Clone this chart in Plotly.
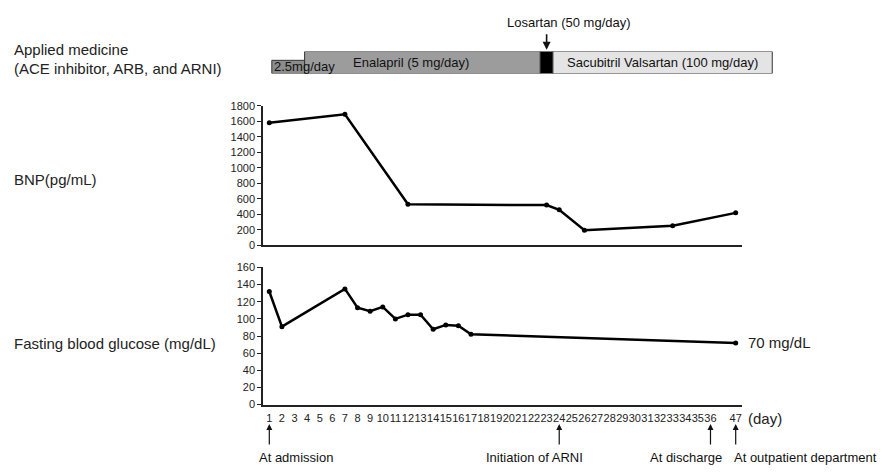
import plotly.graph_objects as go

# ---------------- data ----------------
tick_labels = [str(d) for d in range(1, 37)] + ["", "47"]

bnp_days = [1, 7, 12, 23, 24, 26, 33, 47]
bnp_values = [1580, 1690, 530, 520, 460, 195, 255, 420]

glu_days = [1, 2, 7, 8, 9, 10, 11, 12, 13, 14, 15, 16, 17, 47]
glu_values = [132, 91, 135, 113, 109, 114, 100, 105, 105, 88, 93, 92, 82, 72]

med_names = ["2.5mg/day", "Enalapril (5 mg/day)", "Losartan (50 mg/day)",
             "Sacubitril Valsartan (100 mg/day)"]
med_start = [0.2, 2.8, 21.5, 22.5]      # in day-slot units
med_end = [2.8, 21.5, 22.5, 39.9]
med_top = [0.6, 1.0, 1.0, 1.0]
med_fill = ["#8c8c8c", "#9c9c9c", "#000000", "#e4e4e4"]

event_days = [1, 24, 36, 47]
event_labels = ["At admission", "Initiation of ARNI", "At discharge",
                "At outpatient department"]
event_label_x = [257, 484, 648, 732]     # left edges (px)

slot_of = {int(l): i for i, l in enumerate(tick_labels) if l}

W, H = 882, 473
def px(x): return x / W
def py(y): return 1 - y / H

FONT = "Liberation Sans, Arial, sans-serif"

fig = go.Figure()

fig.add_trace(go.Scatter(
    x=[slot_of[d] for d in bnp_days], y=bnp_values, mode="lines+markers",
    line=dict(color="black", width=2.5), marker=dict(color="black", size=5),
    xaxis="x", yaxis="y", showlegend=False, hoverinfo="skip"))

fig.add_trace(go.Scatter(
    x=[slot_of[d] for d in glu_days], y=glu_values, mode="lines+markers",
    line=dict(color="black", width=2.5), marker=dict(color="black", size=5),
    xaxis="x2", yaxis="y2", showlegend=False, hoverinfo="skip"))

n_slots = len(tick_labels)
xdom = [px(263), px(742)]
slot_px = (742 - 263) / n_slots
med_range_end = -0.5 + (782 - 263) / slot_px

axis_common = dict(showline=True, linecolor="#222", linewidth=1.5,
                   showgrid=False, zeroline=False,
                   tickfont=dict(family=FONT, size=11, color="#222"))

fig.update_layout(
    width=W, height=H, margin=dict(l=0, r=0, t=0, b=0),
    paper_bgcolor="white", plot_bgcolor="white",
    font=dict(family=FONT, color="#222"),
    xaxis=dict(domain=xdom, range=[-0.5, n_slots - 0.5], anchor="y",
               showticklabels=False, ticks="", **axis_common),
    yaxis=dict(domain=[py(245.7), py(102.3)], range=[0, 1800], dtick=200,
               anchor="x", ticks="outside", ticklen=4, tickcolor="#222",
               **axis_common),
    xaxis2=dict(domain=xdom, range=[-0.5, n_slots - 0.5], anchor="y2",
                tickmode="array", tickvals=list(range(n_slots)),
                ticktext=tick_labels, tickangle=0, ticks="",
                ticklabelstandoff=2, **axis_common),
    yaxis2=dict(domain=[py(409), py(268.3)], range=[0, 160], dtick=20,
                anchor="x2", ticks="outside", ticklen=4, tickcolor="#222",
                **axis_common),
    xaxis3=dict(domain=[px(263), px(782)], range=[-0.5, med_range_end],
                anchor="y3", visible=False),
    yaxis3=dict(domain=[py(69.3), py(46.7)], range=[0, 1], anchor="x3",
                visible=False),
)

shapes = []
for s, e, t, c in zip(med_start, med_end, med_top, med_fill):
    shapes.append(dict(type="rect", xref="x3", yref="y3", x0=s, x1=e, y0=0, y1=t,
                       fillcolor=c, line=dict(color="#333", width=1), layer="below"))
fig.update_layout(shapes=shapes)

ann = []
# left labels
ann.append(dict(x=px(12), y=py(45), xref="paper", yref="paper", xanchor="left",
                yanchor="middle", text="Applied medicine", showarrow=False,
                font=dict(size=15, family=FONT)))
ann.append(dict(x=px(12), y=py(64), xref="paper", yref="paper", xanchor="left",
                yanchor="middle", text="(ACE inhibitor, ARB, and ARNI)", showarrow=False,
                font=dict(size=15, family=FONT)))
ann.append(dict(x=px(12), y=py(178), xref="paper", yref="paper", xanchor="left",
                yanchor="middle", text="BNP(pg/mL)", showarrow=False,
                font=dict(size=15, family=FONT)))
ann.append(dict(x=px(12), y=py(346), xref="paper", yref="paper", xanchor="left",
                yanchor="middle", text="Fasting blood glucose (mg/dL)", showarrow=False,
                font=dict(size=15, family=FONT)))
# medicine labels
ann.append(dict(x=med_start[0], y=0.3, xref="x3", yref="y3", xanchor="left",
                yanchor="middle", text=med_names[0], showarrow=False,
                font=dict(size=13, family=FONT, color="#111")))
ann.append(dict(x=(med_start[1] + med_end[1]) / 2 - 0.9, y=0.5, xref="x3", yref="y3",
                xanchor="center", yanchor="middle", text=med_names[1], showarrow=False,
                font=dict(size=13, family=FONT, color="#111")))
ann.append(dict(x=(med_start[3] + med_end[3]) / 2, y=0.5, xref="x3", yref="y3",
                xanchor="center", yanchor="middle", text=med_names[3], showarrow=False,
                font=dict(size=13, family=FONT, color="#111")))
# Losartan arrow + label
ann.append(dict(x=(med_start[2] + med_end[2]) / 2, y=py(45), xref="x3", yref="paper",
                ax=0, ay=-17, text="", showarrow=True, arrowhead=2, arrowsize=1,
                arrowwidth=1.6, arrowcolor="#111"))
ann.append(dict(x=(med_start[2] + med_end[2]) / 2 + 1.8, y=py(17), xref="x3", yref="paper",
                xanchor="center", yanchor="middle", text=med_names[2], showarrow=False,
                font=dict(size=13, family=FONT, color="#111")))
# end label of glucose
ann.append(dict(x=slot_of[glu_days[-1]], y=glu_values[-1], xref="x2", yref="y2",
                xanchor="left", yanchor="middle", xshift=10, text="70 mg/dL",
                showarrow=False, font=dict(size=15, family=FONT)))
ann.append(dict(x=px(746), y=py(423), xref="paper", yref="paper", xanchor="left",
                yanchor="middle", text="(day)", showarrow=False,
                font=dict(size=15, family=FONT)))
# event arrows and labels
for d, lab, lx in zip(event_days, event_labels, event_label_x):
    ann.append(dict(x=slot_of[d], y=py(429), xref="x2", yref="paper", ax=0, ay=22,
                    text="", showarrow=True, arrowhead=2, arrowsize=1,
                    arrowwidth=1.2, arrowcolor="#111"))
    ann.append(dict(x=px(lx), y=py(463), xref="paper", yref="paper", xanchor="left",
                    yanchor="middle", text=lab, showarrow=False,
                    font=dict(size=13, family=FONT, color="#111")))
fig.update_layout(annotations=ann)

fig.write_html("out.html", config={"displayModeBar": False},
               post_script="document.body.style.margin='0';document.body.style.padding='0';")
